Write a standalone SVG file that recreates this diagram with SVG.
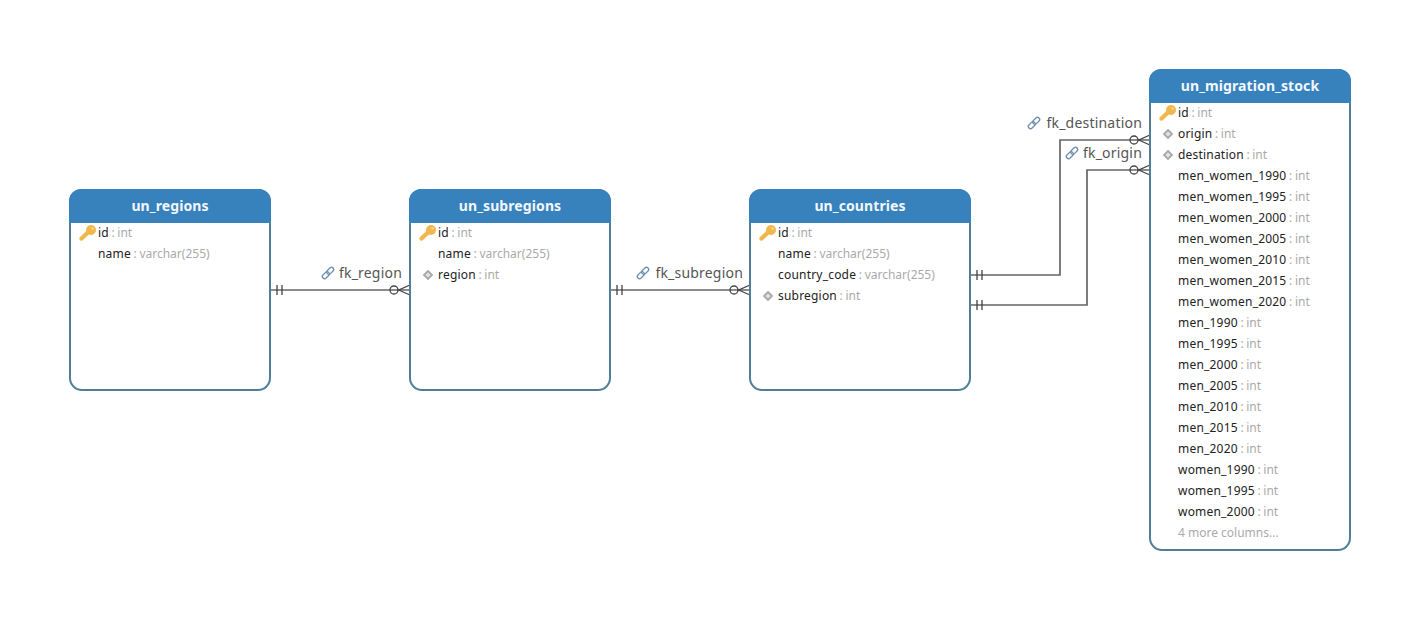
<svg xmlns="http://www.w3.org/2000/svg" width="1408" height="626" viewBox="0 0 1408 626">
<style>
text{font-family:"Noto Sans","Open Sans",sans-serif}
.box{fill:#fff;stroke:#4f8098;stroke-width:2}
.head{fill:#3781bd}
.title{font-size:14px;font-weight:700;fill:#f2f7fb;text-anchor:middle;letter-spacing:.1px}
.col{font-size:12px;fill:#222;letter-spacing:.2px}
.ty{fill:#aaa;letter-spacing:0;word-spacing:-.5px}
.more{font-size:12px;fill:#aaa}
.lab{font-size:14px;fill:#555;text-anchor:end;letter-spacing:.2px}
.ln{fill:none;stroke:#666;stroke-width:1.7}
.mk{fill:none;stroke:#444;stroke-width:1.3}
</style>
<defs>
<g id="key"><circle cx="5" cy="-3" r="5" fill="#f0b84c"/><circle cx="6.5" cy="-4.5" r="1.2" fill="#f7d88e"/><path d="M2.5 -1 L-4.5 5.5" stroke="#f0b84c" stroke-width="4.4" stroke-linecap="round" fill="none"/></g>
<path id="dia" d="M0 -4L4 0L0 4L-4 0Z" fill="#e2e2e2" stroke="#a8a8a8" stroke-width="1.8"/>
<g id="link" fill="none" stroke="#6f8fac" stroke-width="1.3"><rect x="-4" y="-2.2" width="8" height="4.4" rx="2.2" transform="translate(-2.2 2.2) rotate(-45)"/><rect x="-4" y="-2.2" width="8" height="4.4" rx="2.2" transform="translate(2.2 -2.2) rotate(-45)"/></g>
<g id="one" class="mk"><path d="M6 -5V5M11 -5V5"/></g>
<g id="many" class="mk"><circle cx="-16" cy="0" r="4"/><path d="M-12 0H-11.5L0 -5M-11.5 0L0 5"/></g>
</defs>

<g id="connectors">
<path class="ln" d="M271 290H410"/>
<path class="ln" d="M611 290H750"/>
<path class="ln" d="M971 275H1060V140H1150"/>
<path class="ln" d="M971 305H1087V170H1150"/>
<use href="#one" x="271" y="290"/><use href="#many" x="410" y="290"/>
<use href="#one" x="611" y="290"/><use href="#many" x="750" y="290"/>
<use href="#one" x="971" y="275"/><use href="#many" x="1150" y="140"/>
<use href="#one" x="971" y="305"/><use href="#many" x="1150" y="170"/>
<use href="#link" x="328" y="273"/><text class="lab" x="402" y="278">fk_region</text>
<use href="#link" x="643" y="273"/><text class="lab" x="743" y="278">fk_subregion</text>
<use href="#link" x="1034" y="123"/><text class="lab" x="1142" y="128">fk_destination</text>
<use href="#link" x="1072" y="153"/><text class="lab" x="1142" y="158">fk_origin</text>
</g>

<g id="un_regions">
<rect class="box" x="70" y="190" width="200" height="200" rx="12"/>
<path class="head" d="M69 223V201a12 12 0 0 1 12-12H259a12 12 0 0 1 12 12V223Z"/>
<text class="title" x="170" y="211">un_regions</text>
<use href="#key" x="86" y="233"/>
<text class="col" x="98" y="237">id<tspan class="ty"> : int</tspan></text>
<text class="col" x="98" y="258">name<tspan class="ty"> : varchar(255)</tspan></text>
</g>

<g id="un_subregions">
<rect class="box" x="410" y="190" width="200" height="200" rx="12"/>
<path class="head" d="M409 223V201a12 12 0 0 1 12-12H599a12 12 0 0 1 12 12V223Z"/>
<text class="title" x="510" y="211">un_subregions</text>
<use href="#key" x="426" y="233"/>
<text class="col" x="438" y="237">id<tspan class="ty"> : int</tspan></text>
<text class="col" x="438" y="258">name<tspan class="ty"> : varchar(255)</tspan></text>
<use href="#dia" x="428" y="275"/>
<text class="col" x="438" y="279">region<tspan class="ty"> : int</tspan></text>
</g>

<g id="un_countries">
<rect class="box" x="750" y="190" width="220" height="200" rx="12"/>
<path class="head" d="M749 223V201a12 12 0 0 1 12-12H959a12 12 0 0 1 12 12V223Z"/>
<text class="title" x="860" y="211">un_countries</text>
<use href="#key" x="766" y="233"/>
<text class="col" x="778" y="237">id<tspan class="ty"> : int</tspan></text>
<text class="col" x="778" y="258">name<tspan class="ty"> : varchar(255)</tspan></text>
<text class="col" x="778" y="279">country_code<tspan class="ty"> : varchar(255)</tspan></text>
<use href="#dia" x="768" y="296"/>
<text class="col" x="778" y="300">subregion<tspan class="ty"> : int</tspan></text>
</g>

<g id="un_migration_stock">
<rect class="box" x="1150" y="70" width="200" height="480" rx="12"/>
<path class="head" d="M1149 103V81a12 12 0 0 1 12-12H1339a12 12 0 0 1 12 12V103Z"/>
<text class="title" x="1250" y="91">un_migration_stock</text>
<use href="#key" x="1166" y="113"/>
<text class="col" x="1178" y="117">id<tspan class="ty"> : int</tspan></text>
<use href="#dia" x="1168" y="134"/>
<text class="col" x="1178" y="138">origin<tspan class="ty"> : int</tspan></text>
<use href="#dia" x="1168" y="155"/>
<text class="col" x="1178" y="159">destination<tspan class="ty"> : int</tspan></text>
<text class="col" x="1178" y="180">men_women_1990<tspan class="ty"> : int</tspan></text>
<text class="col" x="1178" y="201">men_women_1995<tspan class="ty"> : int</tspan></text>
<text class="col" x="1178" y="222">men_women_2000<tspan class="ty"> : int</tspan></text>
<text class="col" x="1178" y="243">men_women_2005<tspan class="ty"> : int</tspan></text>
<text class="col" x="1178" y="264">men_women_2010<tspan class="ty"> : int</tspan></text>
<text class="col" x="1178" y="285">men_women_2015<tspan class="ty"> : int</tspan></text>
<text class="col" x="1178" y="306">men_women_2020<tspan class="ty"> : int</tspan></text>
<text class="col" x="1178" y="327">men_1990<tspan class="ty"> : int</tspan></text>
<text class="col" x="1178" y="348">men_1995<tspan class="ty"> : int</tspan></text>
<text class="col" x="1178" y="369">men_2000<tspan class="ty"> : int</tspan></text>
<text class="col" x="1178" y="390">men_2005<tspan class="ty"> : int</tspan></text>
<text class="col" x="1178" y="411">men_2010<tspan class="ty"> : int</tspan></text>
<text class="col" x="1178" y="432">men_2015<tspan class="ty"> : int</tspan></text>
<text class="col" x="1178" y="453">men_2020<tspan class="ty"> : int</tspan></text>
<text class="col" x="1178" y="474">women_1990<tspan class="ty"> : int</tspan></text>
<text class="col" x="1178" y="495">women_1995<tspan class="ty"> : int</tspan></text>
<text class="col" x="1178" y="516">women_2000<tspan class="ty"> : int</tspan></text>
<text class="more" x="1178" y="537">4 more columns...</text>
</g>
</svg>
